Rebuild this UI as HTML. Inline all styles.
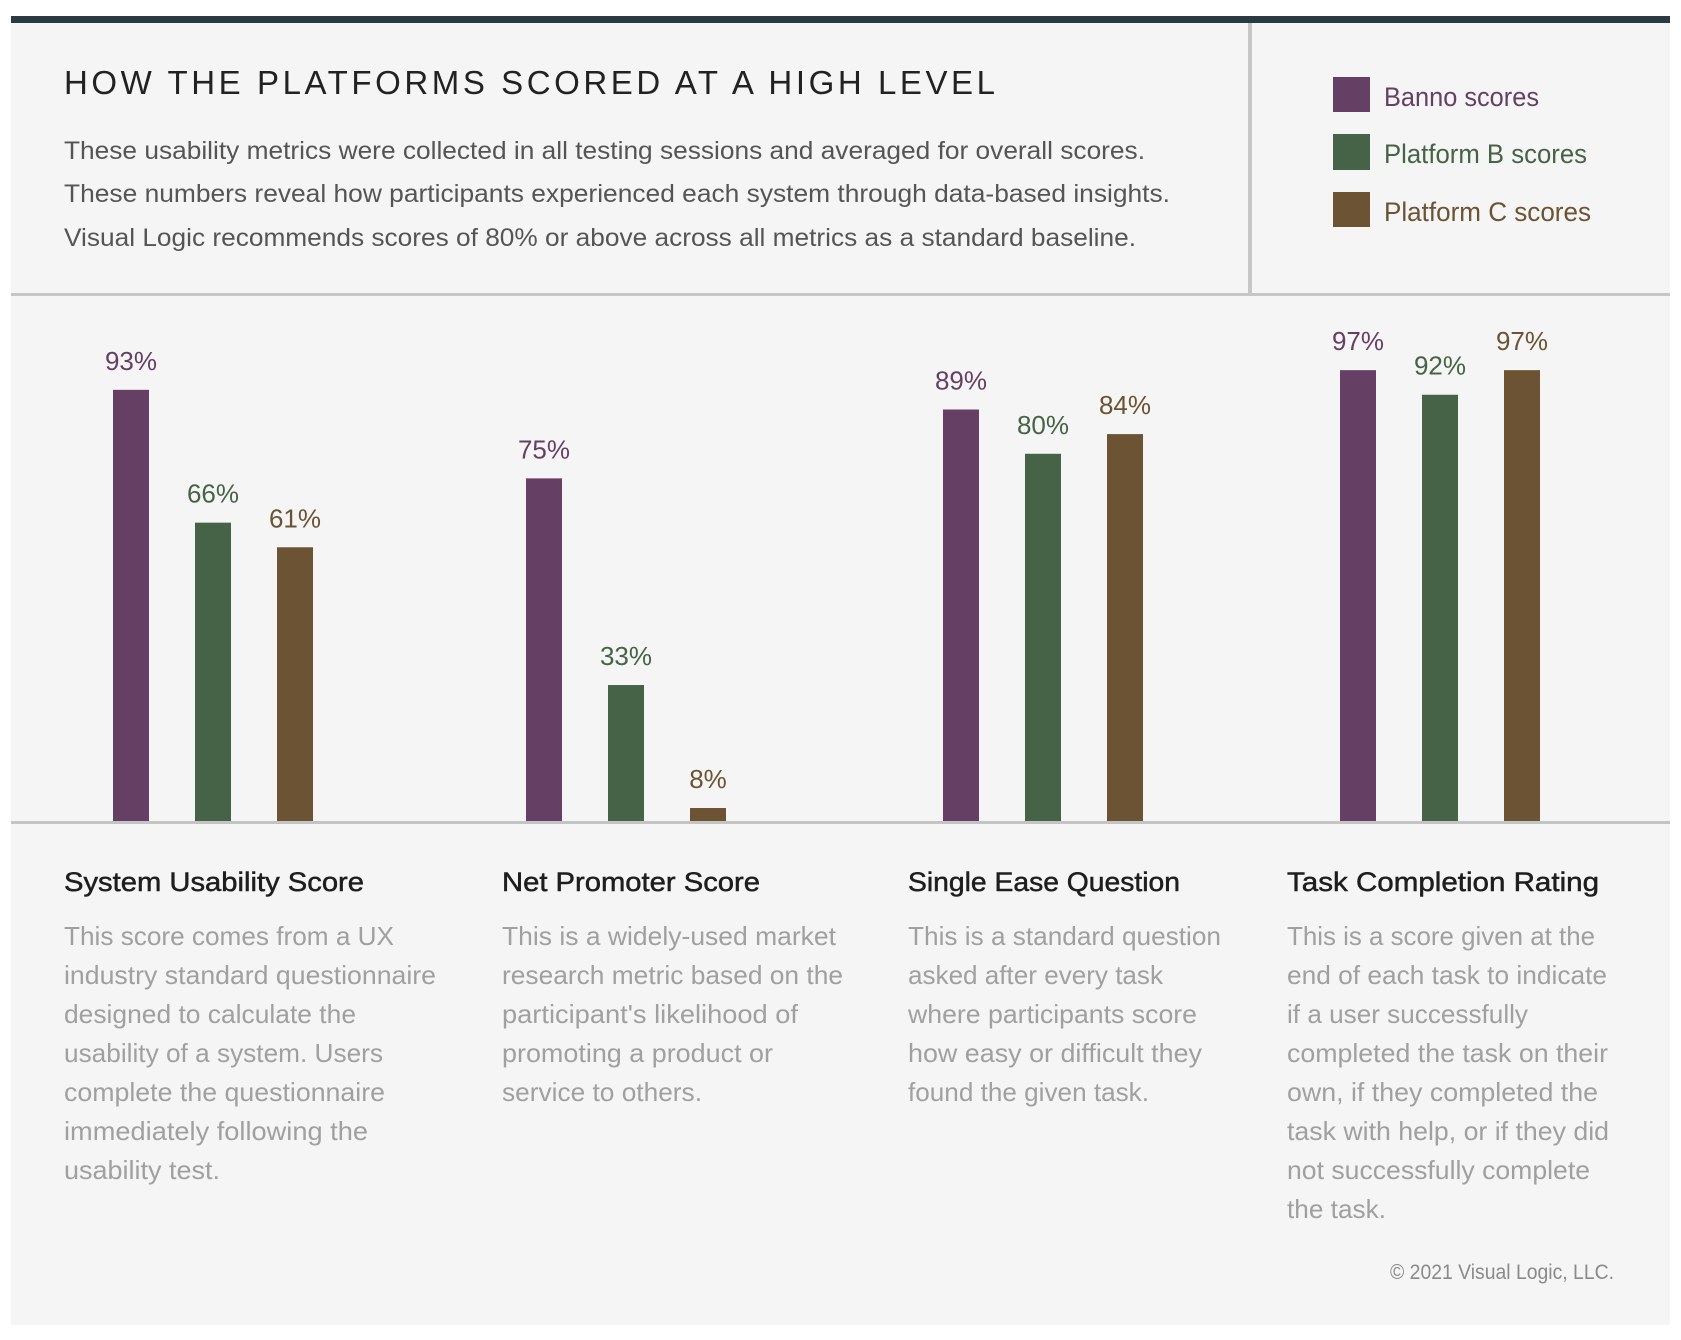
<!DOCTYPE html>
<html><head><meta charset="utf-8">
<style>
html,body{margin:0;padding:0;background:#fff;}
svg{display:block;font-family:"Liberation Sans",sans-serif;}
</style></head>
<body>
<svg id="chart" width="1681" height="1340" viewBox="0 0 1681 1340" xmlns="http://www.w3.org/2000/svg">
  <rect x="11" y="16" width="1659" height="1309" fill="#f4f5f4"/>
  <rect x="11" y="16" width="1659" height="7" fill="#2b3a42"/>
  <rect x="1248" y="23" width="4" height="272" fill="#c6c6c6"/>
  <rect x="11" y="293" width="1659" height="3" fill="#c6c6c6"/>

  <text x="64" y="94" font-size="33" fill="#222" textLength="931" lengthAdjust="spacing">HOW THE PLATFORMS SCORED AT A HIGH LEVEL</text>
  <g font-size="25" fill="#555">
    <text x="64" y="159" textLength="1081" lengthAdjust="spacingAndGlyphs">These usability metrics were collected in all testing sessions and averaged for overall scores.</text>
    <text x="64" y="202" textLength="1106" lengthAdjust="spacingAndGlyphs">These numbers reveal how participants experienced each system through data-based insights.</text>
    <text x="64" y="246" textLength="1072" lengthAdjust="spacingAndGlyphs">Visual Logic recommends scores of 80% or above across all metrics as a standard baseline.</text>
  </g>

  <g font-size="27">
    <rect x="1333" y="77" width="37" height="35" fill="#663f64"/>
    <text x="1384" y="106" fill="#663f64" textLength="155" lengthAdjust="spacingAndGlyphs">Banno scores</text>
    <rect x="1333" y="134" width="37" height="36" fill="#476347"/>
    <text x="1384" y="163" fill="#476347" textLength="203" lengthAdjust="spacingAndGlyphs">Platform B scores</text>
    <rect x="1333" y="192" width="37" height="35" fill="#6b5333"/>
    <text x="1384" y="221" fill="#6b5333" textLength="207" lengthAdjust="spacingAndGlyphs">Platform C scores</text>
  </g>

  <g id="bars"></g>
  <rect x="11" y="821" width="1659" height="3" fill="#c4c4c4"/>

  <g>
    <g>
      <text x="64" y="891" font-size="27" fill="#1e1e1e" stroke="#1e1e1e" stroke-width="0.5" textLength="300" lengthAdjust="spacingAndGlyphs">System Usability Score</text>
      <g font-size="26" fill="#a0a0a0">
        <text x="64" y="945" textLength="330" lengthAdjust="spacingAndGlyphs">This score comes from a UX</text>
        <text x="64" y="984" textLength="372" lengthAdjust="spacingAndGlyphs">industry standard questionnaire</text>
        <text x="64" y="1023" textLength="292" lengthAdjust="spacingAndGlyphs">designed to calculate the</text>
        <text x="64" y="1062" textLength="319" lengthAdjust="spacingAndGlyphs">usability of a system. Users</text>
        <text x="64" y="1101" textLength="321" lengthAdjust="spacingAndGlyphs">complete the questionnaire</text>
        <text x="64" y="1140" textLength="304" lengthAdjust="spacingAndGlyphs">immediately following the</text>
        <text x="64" y="1179" textLength="156" lengthAdjust="spacingAndGlyphs">usability test.</text>
      </g>
    </g>
    <g>
      <text x="502" y="891" font-size="27" fill="#1e1e1e" stroke="#1e1e1e" stroke-width="0.5" textLength="258" lengthAdjust="spacingAndGlyphs">Net Promoter Score</text>
      <g font-size="26" fill="#a0a0a0">
        <text x="502" y="945" textLength="334" lengthAdjust="spacingAndGlyphs">This is a widely-used market</text>
        <text x="502" y="984" textLength="341" lengthAdjust="spacingAndGlyphs">research metric based on the</text>
        <text x="502" y="1023" textLength="296" lengthAdjust="spacingAndGlyphs">participant's likelihood of</text>
        <text x="502" y="1062" textLength="271" lengthAdjust="spacingAndGlyphs">promoting a product or</text>
        <text x="502" y="1101" textLength="200" lengthAdjust="spacingAndGlyphs">service to others.</text>
      </g>
    </g>
    <g>
      <text x="908" y="891" font-size="27" fill="#1e1e1e" stroke="#1e1e1e" stroke-width="0.5" textLength="272" lengthAdjust="spacingAndGlyphs">Single Ease Question</text>
      <g font-size="26" fill="#a0a0a0">
        <text x="908" y="945" textLength="313" lengthAdjust="spacingAndGlyphs">This is a standard question</text>
        <text x="908" y="984" textLength="255" lengthAdjust="spacingAndGlyphs">asked after every task</text>
        <text x="908" y="1023" textLength="289" lengthAdjust="spacingAndGlyphs">where participants score</text>
        <text x="908" y="1062" textLength="294" lengthAdjust="spacingAndGlyphs">how easy or difficult they</text>
        <text x="908" y="1101" textLength="241" lengthAdjust="spacingAndGlyphs">found the given task.</text>
      </g>
    </g>
    <g>
      <text x="1287" y="891" font-size="27" fill="#1e1e1e" stroke="#1e1e1e" stroke-width="0.5" textLength="312" lengthAdjust="spacingAndGlyphs">Task Completion Rating</text>
      <g font-size="26" fill="#a0a0a0">
        <text x="1287" y="945" textLength="308" lengthAdjust="spacingAndGlyphs">This is a score given at the</text>
        <text x="1287" y="984" textLength="320" lengthAdjust="spacingAndGlyphs">end of each task to indicate</text>
        <text x="1287" y="1023" textLength="241" lengthAdjust="spacingAndGlyphs">if a user successfully</text>
        <text x="1287" y="1062" textLength="321" lengthAdjust="spacingAndGlyphs">completed the task on their</text>
        <text x="1287" y="1101" textLength="311" lengthAdjust="spacingAndGlyphs">own, if they completed the</text>
        <text x="1287" y="1140" textLength="322" lengthAdjust="spacingAndGlyphs">task with help, or if they did</text>
        <text x="1287" y="1179" textLength="303" lengthAdjust="spacingAndGlyphs">not successfully complete</text>
        <text x="1287" y="1218" textLength="99" lengthAdjust="spacingAndGlyphs">the task.</text>
      </g>
    </g>
  </g>
  <text x="1390" y="1279" font-size="21" fill="#8a8a8a" textLength="224" lengthAdjust="spacingAndGlyphs">© 2021 Visual Logic, LLC.</text>
</svg>
<script>
const categories = ["System Usability Score", "Net Promoter Score", "Single Ease Question", "Task Completion Rating"];
const seriesNames = ["Banno", "Platform B", "Platform C"];
const bannoValues = [93, 75, 89, 97];
const platformBValues = [66, 33, 80, 92];
const platformCValues = [61, 8, 84, 97];

const series = [bannoValues, platformBValues, platformCValues];
const colors = ["#663f64", "#476347", "#6b5333"];
const baselineY = 822;
const domainMin = 5.16;
const pxPerPct = 4.92;
const groupStarts = [113, 526, 943, 1340];
const barW = 36, barStride = 82;
function yScale(v){ return baselineY - (v - domainMin) * pxPerPct; }
function xPos(ci, si){ return groupStarts[ci] + si * barStride; }

const NS = "http://www.w3.org/2000/svg";
const g = document.getElementById("bars");
categories.forEach((cat, ci) => {
  series.forEach((vals, si) => {
    const v = vals[ci];
    const x = xPos(ci, si);
    const y = yScale(v);
    const r = document.createElementNS(NS, "rect");
    r.setAttribute("x", x);
    r.setAttribute("y", y);
    r.setAttribute("width", barW);
    r.setAttribute("height", Math.max(0, baselineY - y));
    r.setAttribute("fill", colors[si]);
    
    
    g.appendChild(r);
    const t = document.createElementNS(NS, "text");
    t.setAttribute("x", x + barW / 2);
    t.setAttribute("y", y - 20);
    t.setAttribute("text-anchor", "middle");
    t.setAttribute("font-size", "26");
    t.setAttribute("fill", colors[si]);
    t.textContent = v + "%";
    
    
    g.appendChild(t);
  });
});
</script>
</body></html>
